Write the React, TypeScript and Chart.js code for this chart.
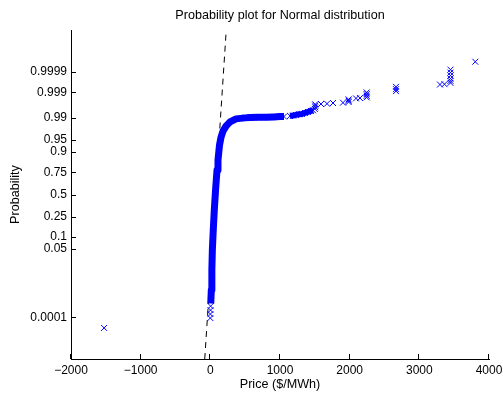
import React, { useEffect, useRef } from 'react';
import { Chart, registerables } from 'chart.js';

Chart.register(...registerables);

// ---- text ----
const chartTitle = 'Probability plot for Normal distribution';
const xAxisTitle = 'Price ($/MWh)';
const yAxisTitle = 'Probability';

// ---- axes ----
const xTickValues = [-2000, -1000, 0, 1000, 2000, 3000, 4000];
const xMin = -2000;
const xMax = 4000;
const probTickValues = [0.0001, 0.05, 0.1, 0.25, 0.5, 0.75, 0.9, 0.95, 0.99, 0.999, 0.9999];
const probTickLabels = ['0.0001', '0.05', '0.1', '0.25', '0.5', '0.75', '0.9', '0.95', '0.99', '0.999', '0.9999'];
const quantileMin = -4.98;
const quantileMax = 4.98;

// ---- dense body of the sample (price vs. standard normal quantile of plotting position) ----
const bodyPrice = [6, 14, 22, 29, 42, 57, 75, 96, 110, 132, 154, 182, 225, 283, 369, 498, 570, 684, 800, 914, 1000, 1057];
const bodyQuantile = [-3.3, -2.89, -2.29, -1.68, -1.08, -0.47, 0.14, 0.74, 1.04, 1.5, 1.74, 1.92, 2.07, 2.2, 2.29, 2.32, 2.33, 2.34, 2.34, 2.35, 2.36, 2.36];

// ---- dense upper stretch of the sample ----
const upperBodyPrice = [1144, 1187, 1230, 1273, 1316, 1359, 1402, 1445, 1474];
const upperBodyQuantile = [2.38, 2.39, 2.41, 2.43, 2.44, 2.47, 2.5, 2.53, 2.55];

// ---- individually visible sample points ----
const pointPrice = [
  -1525, 0, 1, 3, 4,
  512, 570, 627, 684, 742, 785, 828, 871, 914, 957, 1000, 1057,
  1144, 1187, 1230, 1273, 1316, 1359, 1402, 1445,
  1474, 1500, 1505, 1505, 1505,
  1589, 1675, 1761,
  1904, 1985, 1985, 1985,
  2091, 2148,
  2244, 2244, 2244, 2244,
  2665, 2665, 2665,
  3296, 3361,
  3447, 3447, 3447, 3447, 3447, 3447,
  3803,
];
const pointQuantile = [
  -4.04, -3.74, -3.62, -3.5, -3.38,
  2.33, 2.33, 2.33, 2.34, 2.34, 2.34, 2.35, 2.35, 2.35, 2.35, 2.36, 2.36,
  2.38, 2.39, 2.41, 2.43, 2.44, 2.47, 2.5, 2.53,
  2.55, 2.59, 2.64, 2.69, 2.73,
  2.74, 2.75, 2.77,
  2.78, 2.8, 2.84, 2.88,
  2.91, 2.92,
  2.94, 2.99, 3.04, 3.09,
  3.13, 3.19, 3.26,
  3.33, 3.34,
  3.38, 3.44, 3.51, 3.6, 3.69, 3.78,
  4.02,
];

// ---- reference line (through quartiles) ----
const refLineMean = 74;
const refLineStd = 31;

function invNorm(p: number): number {
  const a = [-3.969683028665376e1, 2.209460984245205e2, -2.759285104469687e2, 1.38357751867269e2, -3.066479806614716e1, 2.506628277459239];
  const b = [-5.447609879822406e1, 1.615858368580409e2, -1.556989798598866e2, 6.680131188771972e1, -1.328068155288572e1];
  const c = [-7.784894002430293e-3, -3.223964580411365e-1, -2.400758277161838, -2.549671876437174, 4.374664141464968, 2.938163982698783];
  const d = [7.784695709041462e-3, 3.224671290700398e-1, 2.445134137142996, 3.754408661907416];
  const pLow = 0.02425;
  const pHigh = 1 - pLow;
  if (p < pLow) {
    const q = Math.sqrt(-2 * Math.log(p));
    return (((((c[0] * q + c[1]) * q + c[2]) * q + c[3]) * q + c[4]) * q + c[5]) / ((((d[0] * q + d[1]) * q + d[2]) * q + d[3]) * q + 1);
  } else if (p <= pHigh) {
    const q = p - 0.5;
    const r = q * q;
    return ((((((a[0] * r + a[1]) * r + a[2]) * r + a[3]) * r + a[4]) * r + a[5]) * q) / (((((b[0] * r + b[1]) * r + b[2]) * r + b[3]) * r + b[4]) * r + 1);
  } else {
    const q = Math.sqrt(-2 * Math.log(1 - p));
    return -(((((c[0] * q + c[1]) * q + c[2]) * q + c[3]) * q + c[4]) * q + c[5]) / ((((d[0] * q + d[1]) * q + d[2]) * q + d[3]) * q + 1);
  }
}

const FONT = "'Liberation Sans', Arial, Helvetica, sans-serif";
const BLUE = '#0000ff';

const inwardTicks = {
  id: 'inwardTicks',
  afterDraw(chart: any) {
    const { ctx, chartArea, scales } = chart;
    ctx.save();
    ctx.strokeStyle = '#000';
    ctx.lineWidth = 1;
    ctx.beginPath();
    scales.x.ticks.forEach((t: any) => {
      const px = Math.round(scales.x.getPixelForValue(t.value)) - 0.5;
      ctx.moveTo(px, chartArea.bottom);
      ctx.lineTo(px, chartArea.bottom - 5);
    });
    scales.y.ticks.forEach((t: any) => {
      const py = Math.round(scales.y.getPixelForValue(t.value)) + 0.5;
      ctx.moveTo(chartArea.left, py);
      ctx.lineTo(chartArea.left + 5, py);
    });
    ctx.stroke();
    ctx.restore();
  },
};

export default function App() {
  const canvasRef = useRef<HTMLCanvasElement | null>(null);

  useEffect(() => {
    if (!canvasRef.current) return;
    Chart.defaults.font.family = FONT;
    Chart.defaults.font.size = 12;
    Chart.defaults.color = '#000';

    const bodyData = bodyPrice.map((p, i) => ({ x: p, y: bodyQuantile[i] }));
    const upperData = upperBodyPrice.map((p, i) => ({ x: p, y: upperBodyQuantile[i] }));
    const pointData = pointPrice.map((p, i) => ({ x: p, y: pointQuantile[i] }));
    const refData = [
      { x: refLineMean + refLineStd * quantileMin, y: quantileMin },
      { x: refLineMean + refLineStd * quantileMax, y: quantileMax },
    ];

    const chart = new Chart(canvasRef.current, {
      type: 'scatter',
      data: {
        datasets: [
          {
            label: 'sample',
            data: pointData,
            pointStyle: 'crossRot',
            pointRadius: 4.2,
            pointBorderWidth: 1,
            borderColor: BLUE,
            backgroundColor: BLUE,
            showLine: false,
            order: 1,
          },
          {
            label: 'body',
            data: bodyData,
            showLine: true,
            borderColor: BLUE,
            borderWidth: 7,
            borderJoinStyle: 'round',
            borderCapStyle: 'butt',
            pointRadius: 0,
            tension: 0,
            order: 2,
          },
          {
            label: 'upper body',
            data: upperData,
            showLine: true,
            borderColor: BLUE,
            borderWidth: 6,
            borderJoinStyle: 'round',
            borderCapStyle: 'butt',
            pointRadius: 0,
            tension: 0,
            order: 2,
          },
          {
            label: 'reference',
            data: refData,
            showLine: true,
            borderColor: '#000',
            borderWidth: 1,
            borderDash: [6, 5],
            pointRadius: 0,
            order: 3,
          },
        ],
      },
      options: {
        animation: false,
        responsive: false,
        events: [],
        layout: { padding: { left: 0, right: 14, top: 0, bottom: 0 } },
        plugins: {
          legend: { display: false },
          tooltip: { enabled: false },
          title: {
            display: true,
            text: chartTitle,
            fullSize: false,
            color: '#000',
            font: { size: 12.6, weight: 'normal', family: FONT, lineHeight: 1.2 },
            padding: { top: 7.5, bottom: 7.4 },
          },
        },
        scales: {
          x: {
            type: 'linear',
            min: xMin,
            max: xMax,
            afterBuildTicks: (s: any) => {
              s.ticks = xTickValues.map((v) => ({ value: v }));
            },
            afterFit: (s: any) => {
              s.height = 35;
              s.paddingLeft = 0;
              s.paddingRight = 0;
            },
            ticks: {
              autoSkip: false,
              maxRotation: 0,
              padding: 4,
              color: '#000',
              font: { size: 12, family: FONT },
              callback: (v: any) => (Number(v) < 0 ? '\u2212' + Math.abs(Number(v)) : String(v)),
            },
            grid: { display: false, drawTicks: false },
            border: { display: true, color: '#000', width: 1 },
            title: {
              display: true,
              text: xAxisTitle,
              color: '#000',
              font: { size: 12.6, family: FONT },
              padding: { top: 0, bottom: 2 },
            },
          },
          y: {
            type: 'linear',
            min: quantileMin,
            max: quantileMax,
            afterBuildTicks: (s: any) => {
              s.ticks = probTickValues.map((p) => ({ value: invNorm(p) }));
            },
            afterFit: (s: any) => {
              s.width = 71;
              s.paddingTop = 0;
              s.paddingBottom = 0;
            },
            ticks: {
              autoSkip: false,
              padding: 4,
              color: '#000',
              font: { size: 12, family: FONT },
              callback: (_v: any, i: number) => probTickLabels[i],
            },
            grid: { display: false, drawTicks: false },
            border: { display: true, color: '#000', width: 1 },
            title: {
              display: true,
              text: yAxisTitle,
              color: '#000',
              font: { size: 12.6, family: FONT },
              padding: { top: 8.4, bottom: 0 },
            },
          },
        },
      } as any,
      plugins: [inwardTicks],
    });
    return () => chart.destroy();
  }, []);

  return (
    <div style={{ position: 'absolute', left: 0, top: 0, width: 503, height: 394, background: '#fff' }}>
      <canvas ref={canvasRef} width={503} height={394} style={{ display: 'block', width: 503, height: 394 }} />
    </div>
  );
}
